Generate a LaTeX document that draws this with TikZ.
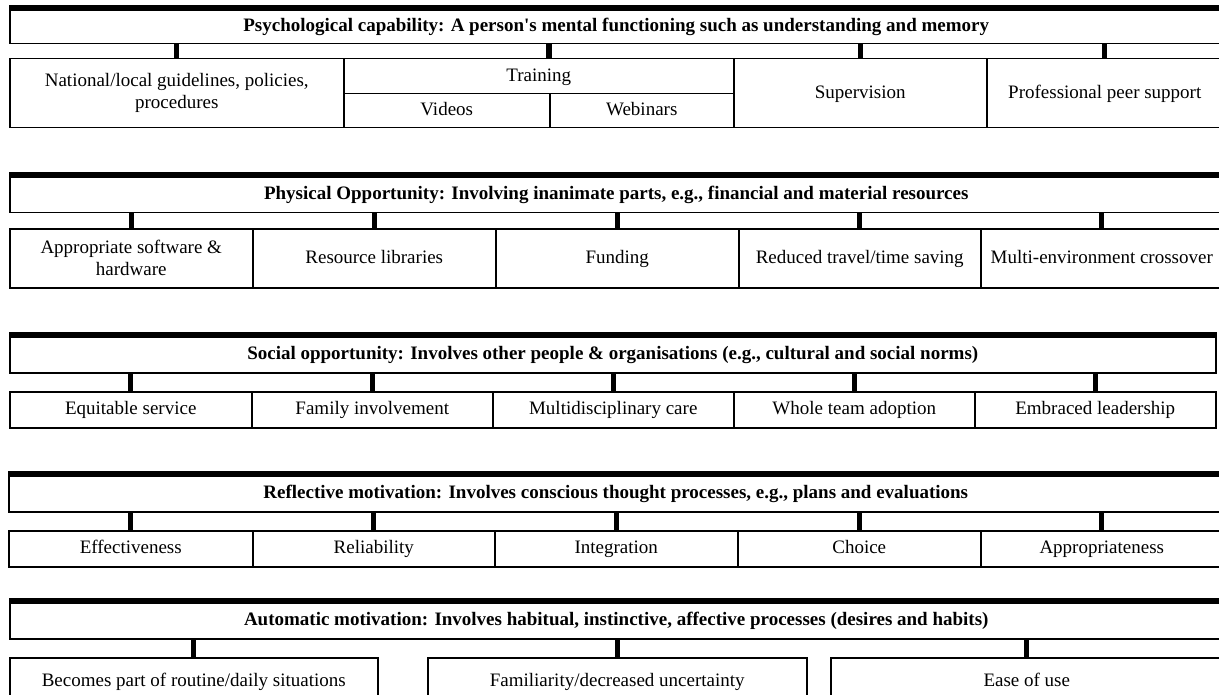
\documentclass[tikz,border=0pt]{standalone}
\usepackage{fontspec}
\setmainfont{Liberation Serif}

\tikzset{
	head/.style = {draw, line width = 0.75pt, anchor = north west, inner sep = 0pt, text height = 7pt, text depth = 2pt, font = \fontsize{9.5}{11}\selectfont\bfseries},
	cell/.style = {draw, line width = 0.75pt, anchor = north west, inner sep = 0pt, align = center, text height = 7pt, text depth = 2pt, font = \fontsize{9.5}{11}\selectfont},
	twolines/.style = {text height = {}, text depth = {}},
	stub/.style = {line width = 2.7pt},
	topline/.style = {line width = 3pt}
}

\begin{document}
\begin{tikzpicture}[x = 0.5pt, y = -0.5pt]

\useasboundingbox (0, 0) rectangle (1219, 695);
\clip (0, 0) rectangle (1219, 695);

% psychological capability
\node[head, minimum width = 606.5pt, minimum height = 17.5pt] (PC) at (9, 8) {Psychological capability: A person\textquotesingle s mental functioning such as understanding and memory};
\draw[topline] (PC.north west) -- (PC.north east);

\node[cell, twolines, minimum width = 167pt, minimum height = 34.5pt] (PC1) at (9, 58) {National/local guidelines, policies,\\procedures};
\node[cell, minimum width = 195pt, minimum height = 17.5pt] (PC2) at (343, 58) {Training};
\node[cell, minimum width = 103pt, minimum height = 17pt] (PC2a) at (343, 93) {Videos};
\node[cell, minimum width = 92pt, minimum height = 17pt] (PC2b) at (549, 93) {Webinars};
\node[cell, minimum width = 126.5pt, minimum height = 34.5pt] (PC3) at (733, 58) {Supervision};
\node[cell, minimum width = 118pt, minimum height = 34.5pt] (PC4) at (986, 58) {Professional peer support};

\foreach \n in {PC1, PC3, PC4}
	\draw[stub] (\n.north) -- (\n.north |- PC.south);
\draw[stub] (PC2.north -| PC2b.west) -- (PC.south -| PC2b.west);

% physical opportunity
\node[head, minimum width = 606.5pt, minimum height = 18.5pt] (PO) at (9, 175) {Physical Opportunity: Involving inanimate parts, e.g., financial and material resources};
\draw[topline] (PO.north west) -- (PO.north east);

\node[cell, twolines, minimum width = 121.5pt, minimum height = 29.5pt] (PO1) at (9, 228) {Appropriate software \&\\hardware};
\draw[stub] (PO1.north) -- (PO1.north |- PO.south);
\foreach \l/\r/\t [count = \i from 2] in {252/495/{Resource libraries}, 495/738/{Funding}, 738/980/{Reduced travel/time saving}, 980/1222/{Multi-environment crossover}} {
	\node[cell, minimum width = {(\r - \l) * 0.5pt}, minimum height = 29.5pt] (PO\i) at (\l, 228) {\t};
	\draw[stub] (PO\i.north) -- (PO\i.north |- PO.south);
}

% social opportunity
\node[head, minimum width = 603pt, minimum height = 18.5pt] (SO) at (9, 335) {Social opportunity: Involves other people \& organisations (e.g., cultural and social norms)};
\draw[topline] (SO.north west) -- (SO.north east);

\foreach \l/\r/\t [count = \i] in {9/251/{Equitable service}, 251/492/{Family involvement}, 492/733/{Multidisciplinary care}, 733/974/{Whole team adoption}, 974/1215/{Embraced leadership}} {
	\node[cell, minimum width = {(\r - \l) * 0.5pt}, minimum height = 18pt] (SO\i) at (\l, 391) {\t};
	\draw[stub] (SO\i.north) -- (SO\i.north |- SO.south);
}

% reflective motivation
\node[head, minimum width = 607pt, minimum height = 18.5pt] (RM) at (8, 474) {Reflective motivation: Involves conscious thought processes, e.g., plans and evaluations};
\draw[topline] (RM.north west) -- (RM.north east);

\foreach \l/\r/\t [count = \i] in {8/252/{Effectiveness}, 252/494/{Reliability}, 494/737/{Integration}, 737/980/{Choice}, 980/1222/{Appropriateness}} {
	\node[cell, minimum width = {(\r - \l) * 0.5pt}, minimum height = 18pt] (RM\i) at (\l, 530) {\t};
	\draw[stub] (RM\i.north) -- (RM\i.north |- RM.south);
}

% automatic motivation
\node[head, minimum width = 606.5pt, minimum height = 18.5pt] (AM) at (9, 601) {Automatic motivation: Involves habitual, instinctive, affective processes (desires and habits)};
\draw[topline] (AM.north west) -- (AM.north east);

\foreach \l/\r/\t [count = \i] in {9/377/{Becomes part of routine/daily situations}, 427/806/{Familiarity/decreased uncertainty}, 830/1222/{Ease of use}} {
	\node[cell, minimum width = {(\r - \l) * 0.5pt}, minimum height = 24pt] (AM\i) at (\l, 657) {\t};
	\draw[stub] (AM\i.north) -- (AM\i.north |- AM.south);
}

\end{tikzpicture}
\end{document}
